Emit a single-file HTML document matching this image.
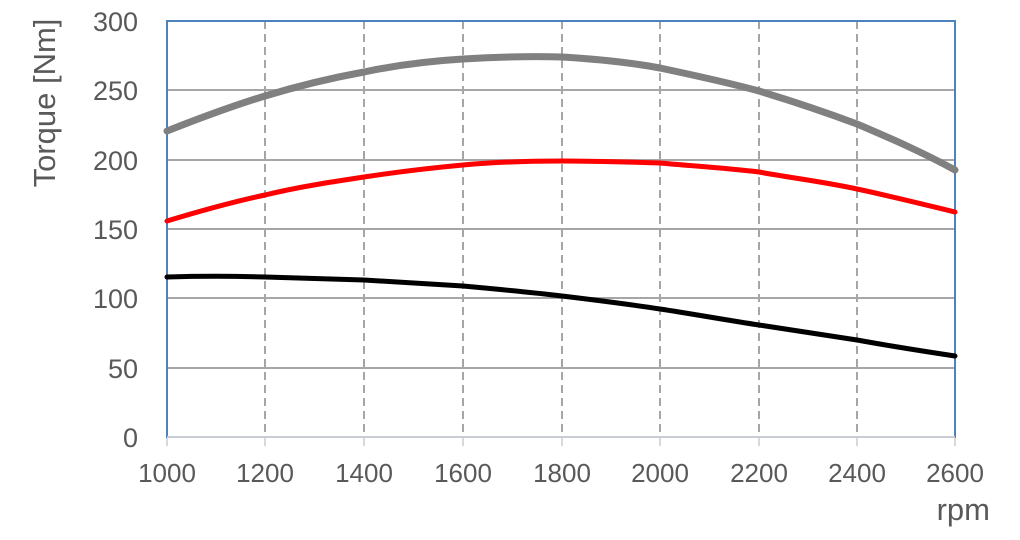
<!DOCTYPE html>
<html><head><style>body{margin:0;background:#fff}svg{display:block}</style></head><body>
<svg width="1020" height="540" xmlns="http://www.w3.org/2000/svg" font-family="Liberation Sans, sans-serif" fill="#595959">
<g stroke="#a6a6a6" stroke-width="2">
<line x1="167" y1="90" x2="955" y2="90"/><line x1="167" y1="160" x2="955" y2="160"/>
<line x1="167" y1="229" x2="955" y2="229"/><line x1="167" y1="298" x2="955" y2="298"/>
<line x1="167" y1="368" x2="955" y2="368"/>
</g>
<g stroke="#a6a6a6" stroke-width="2" stroke-dasharray="8,5">
<line x1="265" y1="21" x2="265" y2="437"/><line x1="364" y1="21" x2="364" y2="437"/>
<line x1="463" y1="21" x2="463" y2="437"/><line x1="562" y1="21" x2="562" y2="437"/>
<line x1="660" y1="21" x2="660" y2="437"/><line x1="759" y1="21" x2="759" y2="437"/>
<line x1="857" y1="21" x2="857" y2="437"/>
</g>
<g stroke="#d9d9d9" stroke-width="2">
<line x1="167" y1="437" x2="167" y2="446"/><line x1="265" y1="437" x2="265" y2="446"/><line x1="364" y1="437" x2="364" y2="446"/><line x1="463" y1="437" x2="463" y2="446"/><line x1="562" y1="437" x2="562" y2="446"/><line x1="660" y1="437" x2="660" y2="446"/><line x1="759" y1="437" x2="759" y2="446"/><line x1="857" y1="437" x2="857" y2="446"/><line x1="955" y1="437" x2="955" y2="446"/>
</g>
<rect x="167" y="21" width="788" height="416" fill="none" stroke="#4f81bd" stroke-width="2"/>
<line x1="167" y1="437" x2="955" y2="437" stroke="#c8ccd4" stroke-width="2"/>
<g fill="none" stroke-linecap="round" stroke-linejoin="round">
<path d="M167,131 C200,118 232,106 265,96 C298,86 331,78 364,72 C397,65 430,61 463,59 C496,57 529,56 562,57 C595,59 628,62 660,68 C693,75 726,82 759,91 C792,101 825,112 857,124 C890,138 922,152 955,170" stroke="#808080" stroke-width="7"/>
<path d="M167,221 C200,211 232,202 265,195 C298,187 331,182 364,177 C397,172 430,168 463,165 C496,162 529,161 562,161 C595,161 628,162 660,163 C693,166 726,168 759,172 C792,178 825,182 857,189 C890,196 922,204 955,212" stroke="#ff0000" stroke-width="5"/>
<path d="M167,277 C200,276 232,276 265,277 C298,278 331,279 364,280 C397,282 430,284 463,286 C496,289 529,292 562,296 C595,300 628,304 660,309 C693,314 726,320 759,325 C792,330 825,335 857,340 C890,346 922,351 955,356" stroke="#000" stroke-width="5"/>
</g>
<g font-size="27" text-anchor="end">
<text x="138" y="31">300</text><text x="138" y="100">250</text><text x="138" y="170">200</text><text x="138" y="239">150</text><text x="138" y="308">100</text><text x="138" y="378">50</text><text x="138" y="447">0</text>
</g>
<g font-size="26" text-anchor="middle">
<text x="167" y="482">1000</text><text x="265" y="482">1200</text><text x="364" y="482">1400</text><text x="463" y="482">1600</text><text x="562" y="482">1800</text><text x="660" y="482">2000</text><text x="759" y="482">2200</text><text x="857" y="482">2400</text><text x="955" y="482">2600</text>
</g>
<text x="990" y="520" font-size="31" text-anchor="end">rpm</text>
<text transform="translate(55,103) rotate(-90)" font-size="31" text-anchor="middle">Torque [Nm]</text>
</svg>
</body></html>
